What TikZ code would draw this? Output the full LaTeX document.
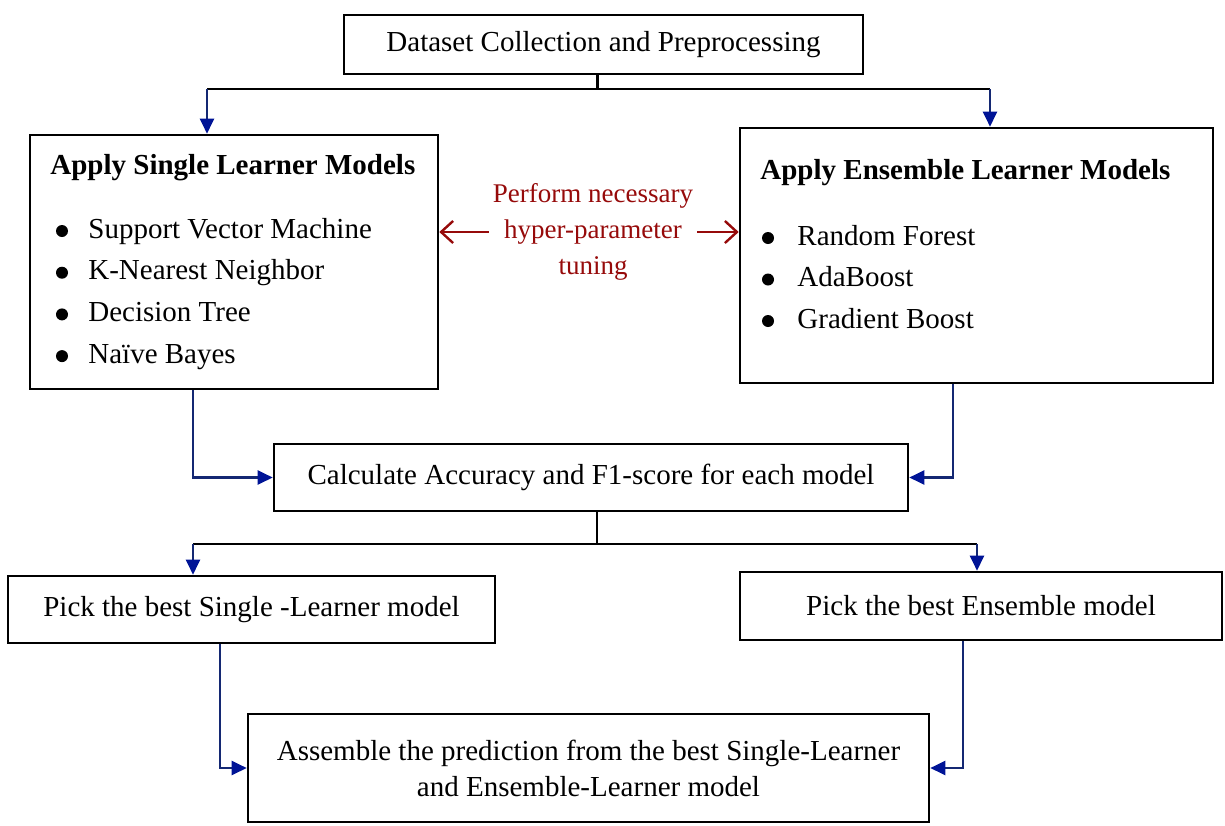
\documentclass[tikz,border=0pt]{standalone}
\usepackage{fontspec}
\setmainfont{Liberation Serif}
\usetikzlibrary{arrows.meta,calc}

\definecolor{flowblue}{RGB}{20,40,115}
\definecolor{tipblue}{RGB}{0,20,150}
\definecolor{tunered}{RGB}{150,10,10}

\tikzset{
  box/.style={draw,line width=1.3pt,inner sep=0pt},
  boxtext/.style={inner sep=0pt,anchor=west},
  itemtext/.style={boxtext,text height=10pt,text depth=3pt},
  dot/.style={circle,fill,inner sep=0pt,minimum size=6pt},
  flow/.style={draw=flowblue,line width=1.1pt,-{Triangle[length=7.5pt,width=7pt,color=tipblue]}},
  trunk/.style={draw=black,line width=1.1pt},
  tunearrow/.style={draw=tunered,line width=1.2pt,-{Straight Barb[length=6pt,width=11pt]}}
}

\begin{document}
\begin{tikzpicture}
  [x=0.5pt,y=-0.5pt,every node/.style={font=\fontsize{14.5}{18}\selectfont}]
  \useasboundingbox (0,0) rectangle (1225,825);

  \node[box,minimum width=259.5pt,minimum height=29.5pt] (data) at (603.5,44.5) {Dataset Collection and Preprocessing};

  % single learners
  \node[box,minimum width=204pt,minimum height=127pt] (single) at (234,262) {};
  \node[boxtext] (stitle) at (50,168) {\bfseries Apply Single Learner Models};
  \foreach \name [count=\i] in {Support Vector Machine,K-Nearest Neighbor,Decision Tree,Naïve Bayes}{
    \node[dot] (sb\i) at (62,{231+41.7*(\i-1)}) {};
    \node[itemtext] (s\i) at (88,{231+41.7*(\i-1)}) {\name};
  }

  % ensemble learners
  \node[box,minimum width=236.5pt,minimum height=127.5pt] (ens) at (976.5,255.5) {};
  \node[boxtext] (etitle) at (760,173) {\bfseries Apply Ensemble Learner Models};
  \foreach \name [count=\i] in {Random Forest,AdaBoost,Gradient Boost}{
    \node[dot] (eb\i) at (768,{238+41.5*(\i-1)}) {};
    \node[itemtext] (e\i) at (797,{238+41.5*(\i-1)}) {\name};
  }

  \node[align=center,text=tunered,inner sep=2pt,font=\fontsize{13.5}{18}\selectfont] (tune) at (593,232) {Perform necessary\\hyper-parameter\\tuning};
  \draw[tunearrow] (tune.west) -- (tune.west -| single.east);
  \draw[tunearrow] (tune.east) -- (tune.east -| ens.west);

  \node[box,minimum width=317pt,minimum height=33.5pt] (calc) at (591,477.5) {Calculate Accuracy and F1-score for each model};
  \node[box,minimum width=243.5pt,minimum height=33.5pt] (pickS) at (251.5,609.5) {Pick the best Single -Learner model};
  \node[box,minimum width=241pt,minimum height=34pt] (pickE) at (981,606) {Pick the best Ensemble model};
  \node[box,minimum width=340.5pt,minimum height=54pt,align=center] (asm) at (588.5,768) {Assemble the prediction from the best Single-Learner\\and Ensemble-Learner model};

  % split below the dataset box
  \coordinate (sIn) at ([xshift=-13.5pt]single.north);
  \coordinate (eIn) at ([xshift=6.75pt]ens.north);
  \coordinate (top) at ($([xshift=-3pt]data.south)+(0,14)$);
  \draw[trunk] ([xshift=-3pt]data.south) -- (top);
  \draw[trunk] (top -| sIn) -- (top -| eIn);
  \draw[flow] (top -| sIn) -- (sIn);
  \draw[flow] (top -| eIn) -- (eIn);

  \draw[flow] ([xshift=-20.5pt]single.south) |- (calc.west);
  \draw[flow] ([xshift=-11.75pt]ens.south) |- (calc.east);

  % split below the score box
  \coordinate (pSIn) at ([xshift=-29.25pt]pickS.north);
  \coordinate (pEIn) at ([xshift=-2pt]pickE.north);
  \coordinate (mid) at ($([xshift=3pt]calc.south)+(0,32)$);
  \draw[trunk] ([xshift=3pt]calc.south) -- (mid);
  \draw[trunk] (mid -| pSIn) -- (mid -| pEIn);
  \draw[flow] (mid -| pSIn) -- (pSIn);
  \draw[flow] (mid -| pEIn) -- (pEIn);

  \draw[flow] ([xshift=-15.75pt]pickS.south) |- (asm.west);
  \draw[flow] ([xshift=-9pt]pickE.south) |- (asm.east);
\end{tikzpicture}
\end{document}
